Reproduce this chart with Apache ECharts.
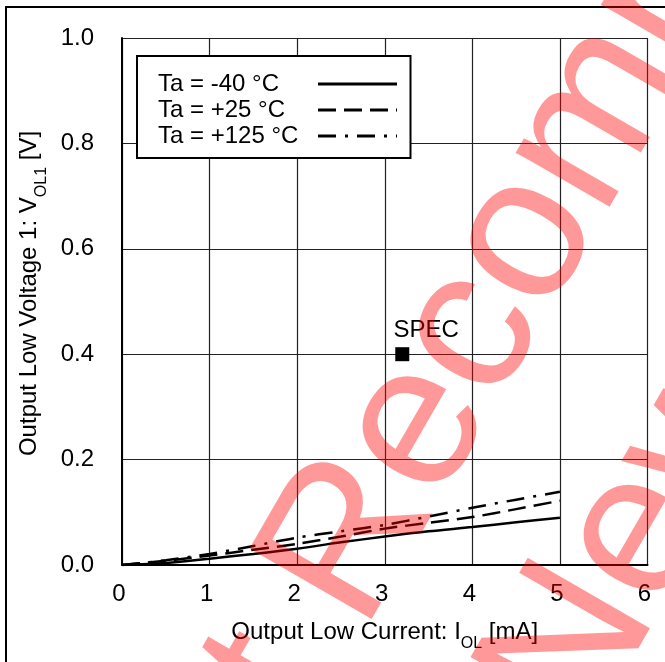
<!DOCTYPE html>
<html>
<head>
<meta charset="utf-8">
<script src="https://cdn.jsdelivr.net/npm/echarts@6/dist/echarts.min.js"></script>
<style>
html,body{margin:0;padding:0;background:#fff;}
#chart{width:665px;height:662px;}
</style>
</head>
<body>
<div id="chart"></div>
<script>
// ---- data ----
var currents = [0, 0.5, 1, 1.5, 2, 2.5, 3, 3.5, 4, 4.5, 5];
var vM40  = [0, 0.004, 0.012, 0.021, 0.031, 0.043, 0.054, 0.064, 0.072, 0.081, 0.0895];
var vP25  = [0, 0.008, 0.018, 0.029, 0.040, 0.054, 0.069, 0.080, 0.091, 0.106, 0.122];
var vP125 = [0, 0.009, 0.021, 0.036, 0.052, 0.064, 0.076, 0.092, 0.1085, 0.124, 0.139];
var seriesNames = ['Ta = -40 °C', 'Ta = +25 °C', 'Ta = +125 °C'];
var specPoint = [3.2, 0.4];
var specLabel = 'SPEC';
var xTicks = [0, 1, 2, 3, 4, 5, 6];
var yTicks = [0, 0.2, 0.4, 0.6, 0.8, 1.0];
var watermark1 = 'Not Recommended';
var watermark2 = 'New Design';

function pairs(xs, ys) { return xs.map(function (x, i) { return [x, ys[i]]; }); }

var FONT = 'Liberation Sans, Arial, sans-serif';
var FS = 24;
var chart = echarts.init(document.getElementById('chart'));

var lineCommon = { type: 'line', symbol: 'none', smooth: 0.3, z: 3 };
var titleRich = {
  a: { fontSize: FS, fontFamily: FONT, color: '#000', lineHeight: 32, verticalAlign: 'top' },
  s: { fontSize: 16, fontFamily: FONT, color: '#000', lineHeight: 15, verticalAlign: 'bottom' }
};

chart.setOption({
  animation: false,
  backgroundColor: '#fff',
  textStyle: { fontFamily: FONT },
  grid: { left: 122, top: 38, right: 17.5, bottom: 97, containLabel: false },
  xAxis: {
    type: 'value', min: xTicks[0], max: xTicks[xTicks.length - 1], interval: 1,
    name: '{a|Output Low Current: I}{s|OL}{a| [mA]}',
    nameLocation: 'middle', nameGap: 55,
    nameTextStyle: { rich: titleRich },
    axisLine: { show: true, onZero: false, lineStyle: { color: '#000', width: 2 } },
    axisTick: { show: false },
    axisLabel: { fontSize: FS, color: '#000', fontFamily: FONT, margin: 17, padding: [0, 6, 0, 0] },
    splitLine: { show: true, lineStyle: { color: '#222', width: 1.2 } }
  },
  yAxis: {
    type: 'value', min: yTicks[0], max: yTicks[yTicks.length - 1], interval: 0.2,
    name: '{a|Output Low Voltage 1: V}{s|OL1}{a| [V]}',
    nameLocation: 'middle', nameGap: 63, nameRotate: 90,
    nameTextStyle: { rich: titleRich, padding: [0, 0, 0, 16] },
    axisLine: { show: true, onZero: false, lineStyle: { color: '#000', width: 2 } },
    axisTick: { show: false },
    axisLabel: { fontSize: FS, color: '#000', fontFamily: FONT, margin: 28,
      formatter: function (v) { return v.toFixed(1); } },
    splitLine: { show: true, lineStyle: { color: '#222', width: 1.2 } }
  },
  legend: {
    data: seriesNames,
    orient: 'vertical', align: 'right',
    left: 137, top: 56,
    padding: [16, 12, 10, 21],
    itemWidth: 79, itemHeight: 20, itemGap: 2,
    backgroundColor: '#fff', borderColor: '#000', borderWidth: 2,
    selectedMode: false,
    itemStyle: { opacity: 0 },
    lineStyle: { width: 3 },
    formatter: function (n) { return '{t|' + n + '}'; },
    textStyle: {
      color: '#000', fontSize: FS, fontFamily: FONT,
      rich: { t: { width: 155, align: 'left', fontSize: FS, lineHeight: 20, fontFamily: FONT, color: '#000' } }
    }
  },
  series: [
    Object.assign({}, lineCommon, { name: seriesNames[0], data: pairs(currents, vM40),
      lineStyle: { color: '#000', width: 2.5, type: 'solid' }, itemStyle: { color: '#000' } }),
    Object.assign({}, lineCommon, { name: seriesNames[1], data: pairs(currents, vP25),
      lineStyle: { color: '#000', width: 2.5, type: [18, 8] }, itemStyle: { color: '#000' } }),
    Object.assign({}, lineCommon, { name: seriesNames[2], data: pairs(currents, vP125),
      lineStyle: { color: '#000', width: 2.5, type: [18, 9, 3, 9] }, itemStyle: { color: '#000' } }),
    {
      name: 'SPEC', type: 'scatter', data: [specPoint], symbol: 'rect', symbolSize: 14, z: 4,
      itemStyle: { color: '#000', opacity: 1 },
      label: { show: true, position: 'top', distance: 5, offset: [24, 0], formatter: specLabel,
        fontSize: FS, color: '#000', fontFamily: FONT }
    }
  ],
  graphic: [
    { type: 'rect', z: 50, silent: true,
      shape: { x: 6, y: 7, width: 800, height: 800 },
      style: { fill: 'none', stroke: '#000', lineWidth: 2 } },
    { type: 'text', z: 100, silent: true, x: 215, y: 982, rotation: Math.PI / 3,
      style: { text: watermark1, font: '205px ' + FONT, fill: 'rgba(255,0,0,0.4)',
        align: 'left', verticalAlign: 'bottom' } },
    { type: 'text', z: 100, silent: true, x: 624, y: 765, rotation: Math.PI / 3,
      style: { text: watermark2, font: '205px ' + FONT, fill: 'rgba(255,0,0,0.4)',
        align: 'left', verticalAlign: 'bottom' } }
  ]
});
</script>
</body>
</html>
